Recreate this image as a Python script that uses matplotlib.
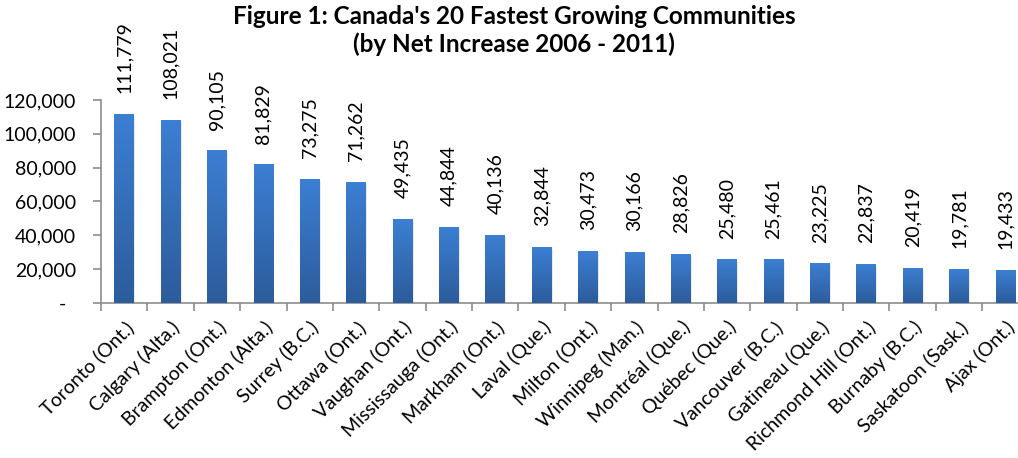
import numpy as np
import matplotlib
matplotlib.use("Agg")
import matplotlib.pyplot as plt
from matplotlib.colors import LinearSegmentedColormap
from matplotlib.ticker import FuncFormatter, MultipleLocator

communities = ["Toronto (Ont.)", "Calgary (Alta.)", "Brampton (Ont.)", "Edmonton (Alta.)",
               "Surrey (B.C.)", "Ottawa (Ont.)", "Vaughan (Ont.)", "Mississauga (Ont.)",
               "Markham (Ont.)", "Laval (Que.)", "Milton (Ont.)", "Winnipeg (Man.)",
               "Montréal (Que.)", "Québec (Que.)", "Vancouver (B.C.)", "Gatineau (Que.)",
               "Richmond Hill (Ont.)", "Burnaby (B.C.)", "Saskatoon (Sask.)", "Ajax (Ont.)"]
net_increase = [111779, 108021, 90105, 81829, 73275, 71262, 49435, 44844, 40136, 32844,
                30473, 30166, 28826, 25480, 25461, 23225, 22837, 20419, 19781, 19433]

plt.rcParams['font.family'] = ['Lato', 'DejaVu Sans']

fig = plt.figure(figsize=(10.18, 4.58), dpi=100)
ax = fig.add_axes([101 / 1018, 1 - 302.7 / 458, 927.5 / 1018, 202.7 / 458])

x = np.arange(len(communities))
w = 0.42
bars = ax.bar(x, net_increase, width=w, color="none", zorder=2)

# gradient fill, light on top, darker at the bottom
cmap = LinearSegmentedColormap.from_list("bar", ["#2c5c9b", "#3c7fd3"])
grad = np.linspace(0, 1, 256).reshape(-1, 1)
for b in bars:
    x0, h = b.get_x(), b.get_height()
    # soft shadow on the right
    ax.bar(x0 + w / 2 + 0.03, h - 600, width=w, bottom=-600, color="#000000",
           alpha=0.08, zorder=1, clip_on=True)
    ax.imshow(grad, extent=[x0, x0 + w, 0, h], origin="lower", aspect="auto",
              cmap=cmap, zorder=3)

for xi, v in zip(x, net_increase):
    ax.annotate(f"{v:,}", (xi, v), xytext=(0, 15), textcoords="offset points",
                rotation=90, ha="center", va="bottom", fontsize=14, annotation_clip=False)

ax.set_xlim(-0.5, len(communities) - 0.5)
ax.set_ylim(0, 120000)
ax.yaxis.set_major_locator(MultipleLocator(20000))
ax.yaxis.set_major_formatter(FuncFormatter(lambda v, p: "-  " if v == 0 else f"{v:,.0f}"))

ax.set_xticks(x)
ax.set_xticklabels(communities, rotation=45, ha="right", rotation_mode="anchor", fontsize=14)
ax.set_xticks(np.arange(len(communities) + 1) - 0.5, minor=True)
ax.tick_params(axis="x", which="major", length=0, pad=11)
ax.tick_params(axis="x", which="minor", length=6, color="#8c8c8c", width=1.2)
ax.tick_params(axis="y", length=6, color="#8c8c8c", width=1.2, labelsize=14, pad=12)

for s in ["top", "right"]:
    ax.spines[s].set_visible(False)
for s in ["left", "bottom"]:
    ax.spines[s].set_color("#8c8c8c")
    ax.spines[s].set_linewidth(1.2)

fig.text(0.505, 0.99, "Figure 1: Canada's 20 Fastest Growing Communities\n(by Net Increase 2006 - 2011)",
         ha="center", va="top", fontsize=17.5, fontweight="bold", linespacing=1.25)

fig.savefig("out.png", dpi=100)
